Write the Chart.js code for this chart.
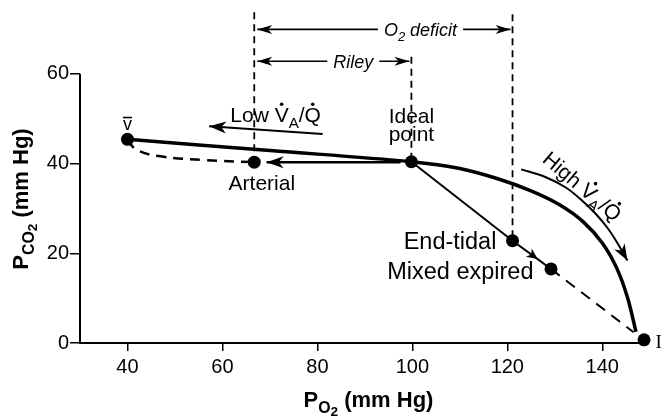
<!DOCTYPE html>
<html lang="en">
<head>
  <meta charset="UTF-8">
  <title>O2-CO2 diagram</title>
  <script src="https://cdn.jsdelivr.net/npm/chart.js"></script>
  <style>
    body { margin: 0; background: #ffffff; }
    #wrap { width: 665px; height: 418px; }
  </style>
</head>
<body>
  <div id="wrap"><canvas id="chart" width="665" height="418"></canvas></div>
  <script>
    const FONT = "'Liberation Sans', Arial, Helvetica, sans-serif";

    // axis ticks
    const xTicks = [40, 60, 80, 100, 120, 140];
    const yTicks = [0, 20, 40, 60];

    // key points: venous, arterial, ideal, end-tidal, mixed expired, inspired
    const pointPO2 = [40, 66.7, 99.8, 121.1, 129.2, 148.8];
    const pointPCO2 = [45.4, 40.3, 40.4, 22.8, 16.5, 0.7];

    // ventilation-perfusion line
    const curvePO2 = [40, 70, 99.8, 110, 118, 125, 131, 136, 140, 143, 145.3, 147.1];
    const curvePCO2 = [45.4, 42.9, 40.4, 38.9, 36.6, 33.9, 30.8, 27, 22.3, 16.8, 10.2, 2.5];

    // venous -> arterial (dashed)
    const shuntPO2 = [40, 42, 47, 56, 66.7];
    const shuntPCO2 = [45.2, 43, 41.6, 40.8, 40.3];

    // ideal -> end-tidal -> mixed expired, arrow at 3rd point
    const expPO2 = [99.8, 121.1, 126.4, 129.2];
    const expPCO2 = [40.4, 22.8, 18.7, 16.5];
    // mixed expired -> inspired (dashed)
    const deadPO2 = [129.2, 146.6];
    const deadPCO2 = [16.5, 2.4];

    // ideal -> arterial arrow
    const artArrowPO2 = [97.5, 69.3];
    const artArrowPCO2 = [40.3, 40.3];
    // low VA/Q arrow
    const lowPO2 = [81.1, 57.2];
    const lowPCO2 = [46.6, 48.3];
    // high VA/Q arrow
    const highPO2 = [122.9, 128, 132.4, 136, 138.7, 141, 142.9, 145.3];
    const highPCO2 = [38.7, 37, 34.6, 31.5, 28.7, 25.8, 22.8, 18.4];

    // vertical dashed guides
    const guidePO2 = [66.7, 99.8, 121.1];
    const guideTop = [73.7, 63.8, 73.3];
    const guideBottom = [40.3, 40.4, 22.8];

    // O2 deficit / Riley spans
    const spanPCO2 = [69.9, 62.8];
    const spanFrom = [66.7, 66.7];
    const spanTo = [121.1, 99.8];

    // plain labels
    const labelText = ['Ideal', 'point', 'Arterial', 'End-tidal', 'Mixed expired'];
    const labelPO2 = [99.8, 99.8, 68.3, 117.7, 110.1];
    const labelPCO2 = [50.7, 46.7, 35.8, 22.8, 16.2];
    const labelAlign = ['center', 'center', 'center', 'right', 'center'];
    const labelSize = [21, 21, 21, 23.5, 23.5];

    const toPts = (xs, ys) => xs.map((x, i) => ({ x: x, y: ys[i] }));
    const lineSet = (xs, ys, extra) => Object.assign({
      data: toPts(xs, ys),
      borderColor: '#000', backgroundColor: '#000',
      borderWidth: 2, pointRadius: 0, pointHoverRadius: 0,
      fill: false, clip: false, tension: 0
    }, extra);

    const datasets = [
      {
        data: toPts(pointPO2, pointPCO2), showLine: false, clip: false,
        pointRadius: 6.5, pointBackgroundColor: '#000', pointBorderWidth: 0, pointHoverRadius: 6.5
      },
      lineSet(curvePO2, curvePCO2, { borderWidth: 3.5, tension: 0.35 }),
      lineSet(shuntPO2, shuntPCO2, { borderWidth: 2.5, borderDash: [10, 7], tension: 0.4 }),
      lineSet(expPO2, expPCO2, { borderWidth: 2, arrowAt: [{ i: 2, len: 11, half: 5 }] }),
      lineSet(deadPO2, deadPCO2, { borderWidth: 2, borderDash: [11, 8] }),
      lineSet(artArrowPO2, artArrowPCO2, { borderWidth: 2.5, arrowAt: [{ i: 1, len: 17, half: 6 }] }),
      lineSet(lowPO2, lowPCO2, { borderWidth: 2, arrowAt: [{ i: 1, len: 17, half: 6 }] }),
      lineSet(highPO2, highPCO2, { borderWidth: 2, tension: 0.35, arrowAt: [{ i: 7, len: 16, half: 6 }] })
    ];
    guidePO2.forEach((x, i) => {
      datasets.push(lineSet([x, x], [guideTop[i], guideBottom[i]], { borderWidth: 1.8, borderDash: [7, 5] }));
    });

    function arrowHead(ctx, x, y, ang, len, half) {
      ctx.save();
      ctx.translate(x, y);
      ctx.rotate(ang);
      ctx.beginPath();
      ctx.moveTo(0, 0);
      ctx.lineTo(-len, -half);
      ctx.lineTo(-len * 0.72, 0);
      ctx.lineTo(-len, half);
      ctx.closePath();
      ctx.fill();
      ctx.restore();
    }

    // text with subscripts / dots, returns [start, end] x
    function drawRich(ctx, segs, x, y, o) {
      const size = o.size;
      const fam = o.family || FONT;
      const k = s => s.sub === 2 ? 0.62 : s.sub === 1 ? 0.72 : 1;
      const dy = s => s.sub === 2 ? 0.42 * size : s.sub === 1 ? 0.26 * size : 0;
      const fontOf = s => (o.style || 'normal') + ' ' + (o.weight || 'normal') + ' ' + (size * k(s)) + 'px ' + fam;
      let total = 0;
      const ws = segs.map(s => { ctx.font = fontOf(s); const w = ctx.measureText(s.t).width; total += w; return w; });
      let cx = o.align === 'center' ? x - total / 2 : o.align === 'right' ? x - total : x;
      const start = cx;
      const base = y + 0.36 * size;
      ctx.textAlign = 'left';
      ctx.textBaseline = 'alphabetic';
      segs.forEach((s, i) => {
        ctx.font = fontOf(s);
        ctx.fillText(s.t, cx, base + dy(s));
        if (s.dot) {
          ctx.beginPath();
          ctx.arc(cx + ws[i] / 2, base - 0.72 * size - 2.8, 1.8, 0, Math.PI * 2);
          ctx.fill();
        }
        if (s.bar) {
          ctx.fillRect(cx, base - 0.52 * size - 4, ws[i], 1.6);
        }
        cx += ws[i];
      });
      return [start, cx];
    }

    const overlay = {
      id: 'overlay',
      afterDatasetsDraw(chart) {
        const ctx = chart.ctx;
        const xs = chart.scales.x, ys = chart.scales.y;
        const px = v => xs.getPixelForValue(v), py = v => ys.getPixelForValue(v);
        ctx.save();
        ctx.fillStyle = '#000';
        ctx.strokeStyle = '#000';

        // y axis line only up to 60
        ctx.lineWidth = 2;
        ctx.beginPath();
        ctx.moveTo(chart.chartArea.left, py(yTicks[0]));
        ctx.lineTo(chart.chartArea.left, py(yTicks[yTicks.length - 1]));
        ctx.stroke();

        // arrowheads
        chart.data.datasets.forEach((ds, di) => {
          if (!ds.arrowAt) return;
          const pts = chart.getDatasetMeta(di).data;
          ds.arrowAt.forEach(a => {
            const p = pts[a.i], q = pts[a.i - 1];
            arrowHead(ctx, p.x, p.y, Math.atan2(p.y - q.y, p.x - q.x), a.len, a.half);
          });
        });

        // O2 deficit / Riley spans
        const spanSegs = [
          [{ t: 'O' }, { t: '2', sub: 1 }, { t: ' deficit' }],
          [{ t: 'Riley' }]
        ];
        spanPCO2.forEach((v, i) => {
          const y = py(v), x1 = px(spanFrom[i]) + 3, x2 = px(spanTo[i]) - 2;
          const r = drawRich(ctx, spanSegs[i], (x1 + x2) / 2, y, { size: 18, style: 'italic' });
          ctx.lineWidth = 1.6;
          ctx.beginPath();
          ctx.moveTo(x1, y); ctx.lineTo(r[0] - 6, y);
          ctx.moveTo(r[1] + 6, y); ctx.lineTo(x2, y);
          ctx.stroke();
          arrowHead(ctx, x1, y, Math.PI, 15, 4.5);
          arrowHead(ctx, x2, y, 0, 15, 4.5);
        });

        // plain labels
        labelText.forEach((t, i) => {
          drawRich(ctx, [{ t: t }], px(labelPO2[i]), py(labelPCO2[i]), { size: labelSize[i], align: labelAlign[i] });
        });

        // venous, inspired
        drawRich(ctx, [{ t: 'v', bar: true }], px(40), py(48.9), { size: 18, align: 'center' });
        drawRich(ctx, [{ t: 'I' }], px(151.2), py(0.5), { size: 19, family: "'Liberation Serif', 'Times New Roman', serif" });

        // low / high VA/Q
        const vaq = [{ t: 'V', dot: true }, { t: 'A', sub: 1 }, { t: '/' }, { t: 'Q', dot: true }];
        drawRich(ctx, [{ t: 'Low ' }].concat(vaq), px(71.2), py(50.9), { size: 21, align: 'center' });
        ctx.save();
        ctx.translate(px(135.2) + 3, py(34.3) - 3);
        ctx.rotate(40 * Math.PI / 180);
        drawRich(ctx, [{ t: 'High ' }].concat(vaq), 0, 0, { size: 21, align: 'center' });
        ctx.restore();

        // axis titles
        drawRich(ctx, [{ t: 'P' }, { t: 'O', sub: 1 }, { t: '2', sub: 2 }, { t: ' (mm Hg)' }],
          (chart.chartArea.left + chart.chartArea.right) / 2 + 6, 399, { size: 22, weight: 'bold', align: 'center' });
        ctx.save();
        ctx.translate(20, 199);
        ctx.rotate(-Math.PI / 2);
        drawRich(ctx, [{ t: 'P' }, { t: 'CO', sub: 1 }, { t: '2', sub: 2 }, { t: ' (mm Hg)' }],
          0, 0, { size: 22, weight: 'bold', align: 'center' });
        ctx.restore();

        ctx.restore();
      }
    };

    new Chart(document.getElementById('chart'), {
      type: 'line',
      data: { datasets: datasets },
      plugins: [overlay],
      options: {
        responsive: false,
        animation: false,
        events: [],
        layout: { padding: { top: 4, right: 20, left: 0, bottom: 0 } },
        plugins: { legend: { display: false }, tooltip: { enabled: false } },
        scales: {
          x: {
            type: 'linear', min: 30, max: 149,
            afterBuildTicks: s => { s.ticks = xTicks.map(v => ({ value: v })); },
            afterFit: s => { s.height = 75; s.paddingLeft = 0; s.paddingRight = 0; },
            grid: { drawOnChartArea: false, drawTicks: true, tickLength: 8, color: '#000', lineWidth: 1.5 },
            border: { display: true, color: '#000', width: 2 },
            ticks: { color: '#000', font: { family: FONT, size: 20 }, padding: 4, maxRotation: 0 }
          },
          y: {
            type: 'linear', min: 0, max: 75,
            afterBuildTicks: s => { s.ticks = yTicks.map(v => ({ value: v })); },
            afterFit: s => { s.width = 80; s.paddingTop = 0; s.paddingBottom = 0; },
            grid: { drawOnChartArea: false, drawTicks: true, tickLength: 10, color: '#000', lineWidth: 1.5 },
            border: { display: false },
            ticks: { color: '#000', font: { family: FONT, size: 20 }, padding: 1 }
          }
        }
      }
    });
  </script>
</body>
</html>
